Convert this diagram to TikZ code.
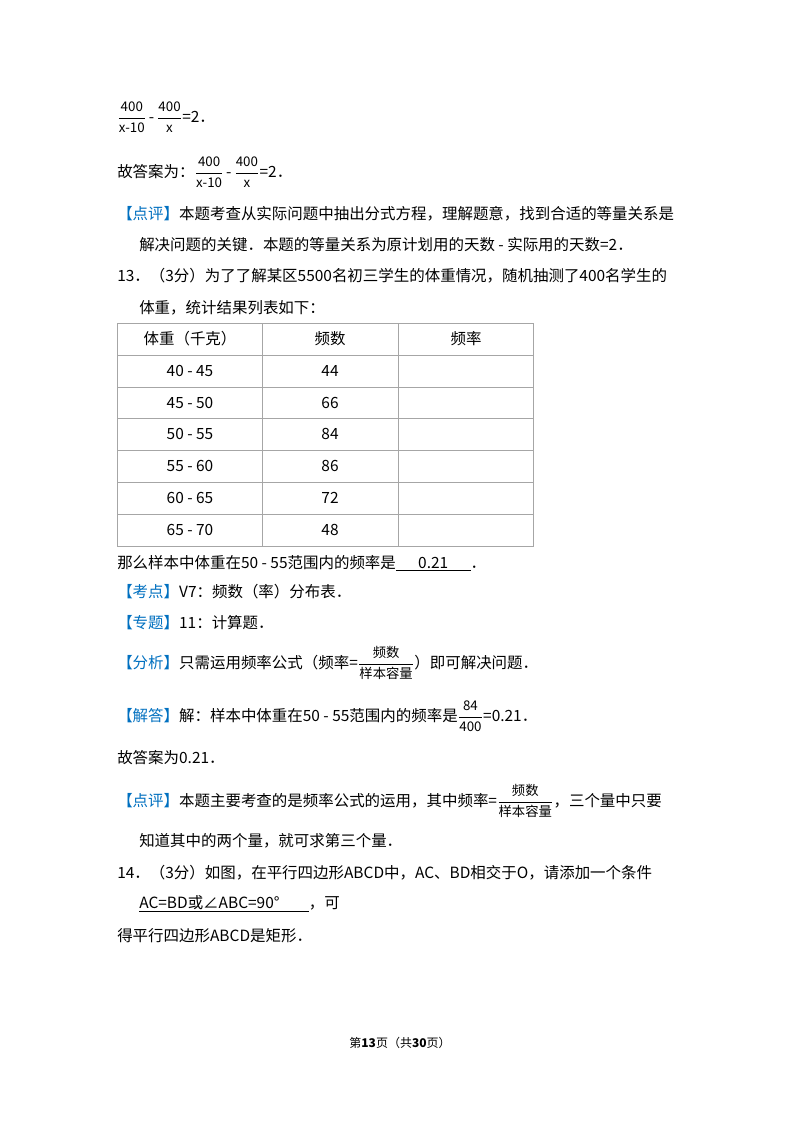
\documentclass[tikz,border=0pt]{standalone}
\usepackage{amsmath}
\usepackage{fontspec}
\setmainfont{Noto Sans CJK SC}
\usetikzlibrary{calc}
\definecolor{tagblue}{RGB}{0,112,192}
\tikzset{
  txt/.style={anchor=base west,inner sep=0pt,font=\fontsize{11.6}{14}\selectfont},
  cell/.style={inner sep=0pt,font=\fontsize{11.6}{14}\selectfont},
  foot/.style={anchor=base,inner sep=0pt,font=\fontsize{9}{11}\selectfont}
}
\newcommand{\bluetag}[1]{\textcolor{tagblue}{【#1】}}
\newcommand{\fr}[2]{$\dfrac{\mbox{\fontsize{10}{11}\selectfont #1}}{\mbox{\fontsize{10}{11}\selectfont #2}}$}
\begin{document}
\begin{tikzpicture}[x=0.75pt,y=-0.75pt]
	\useasboundingbox[fill=white] (0,0) rectangle (800,1132);

	% end of question 12
	\node[txt] (q12a) at (117,122) {\fr{400}{x-10}\,-\,\fr{400}{x}=2．};
	\node[txt] (q12b) at (117,177) {故答案为：\fr{400}{x-10}\,-\,\fr{400}{x}=2．};
	\node[txt] (q12c) at (117,219) {\bluetag{点评}本题考查从实际问题中抽出分式方程，理解题意，找到合适的等量关系是};
	\node[txt] (q12d) at (139,250) {解决问题的关键．本题的等量关系为原计划用的天数 - 实际用的天数=2．};

	% question 13
	\node[txt] (q13a) at (117,281) {13．（3分）为了了解某区5500名初三学生的体重情况，随机抽测了400名学生的};
	\node[txt] (q13b) at (139,313) {体重，统计结果列表如下：};

	% the table
	\draw[gray!70] (117,323) rectangle (533,546);
	\foreach \y in {355,387,418,450,482,514} \draw[gray!70] (117,\y) -- (533,\y);
	\draw[gray!70] (262,323) -- (262,546) (398,323) -- (398,546);
	\node[cell] (h1) at (190,339) {体重（千克）};
	\node[cell] (h2) at (330,339) {频数};
	\node[cell] (h3) at (466,339) {频率};
	\foreach \a/\b/\n [count=\i] in {40/45/44,45/50/66,50/55/84,55/60/86,60/65/72,65/70/48}{
		\node[cell] (r\i a) at (190,339+31.8*\i) {\a\ - \b};
		\node[cell] (r\i b) at (330,339+31.8*\i) {\n};
	}

	\node[txt] (q13c) at (117,568) {那么样本中体重在50 - 55范围内的频率是\underline{\makebox[56pt]{0.21}}．};
	\node[txt] (kd) at (117,597) {\bluetag{考点}V7：频数（率）分布表．};
	\node[txt] (zt) at (117,628) {\bluetag{专题}11：计算题．};
	\node[txt] (fx) at (117,668) {\bluetag{分析}只需运用频率公式（频率=\fr{频数}{样本容量}）即可解决问题．};
	\node[txt] (jd) at (117,721) {\bluetag{解答}解：样本中体重在50 - 55范围内的频率是\fr{84}{400}=0.21．};
	\node[txt] (da) at (117,763) {故答案为0.21．};
	\node[txt] (dp) at (117,806) {\bluetag{点评}本题主要考查的是频率公式的运用，其中频率=\fr{频数}{样本容量}，三个量中只要};
	\node[txt] (dp2) at (139,846) {知道其中的两个量，就可求第三个量．};

	% question 14
	\node[txt] (q14a) at (117,878) {14．（3分）如图，在平行四边形ABCD中，AC、BD相交于O，请添加一个条件};
	\node[txt] (q14b) at (139,908) {\underline{AC=BD或∠ABC=90°\makebox[22pt]{}}，可};
	\node[txt] (q14c) at (117,941) {得平行四边形ABCD是矩形．};

	% page footer
	\node[foot] (pg) at (400,1047) {第\textbf{13}页（共\textbf{30}页）};
\end{tikzpicture}
\end{document}
